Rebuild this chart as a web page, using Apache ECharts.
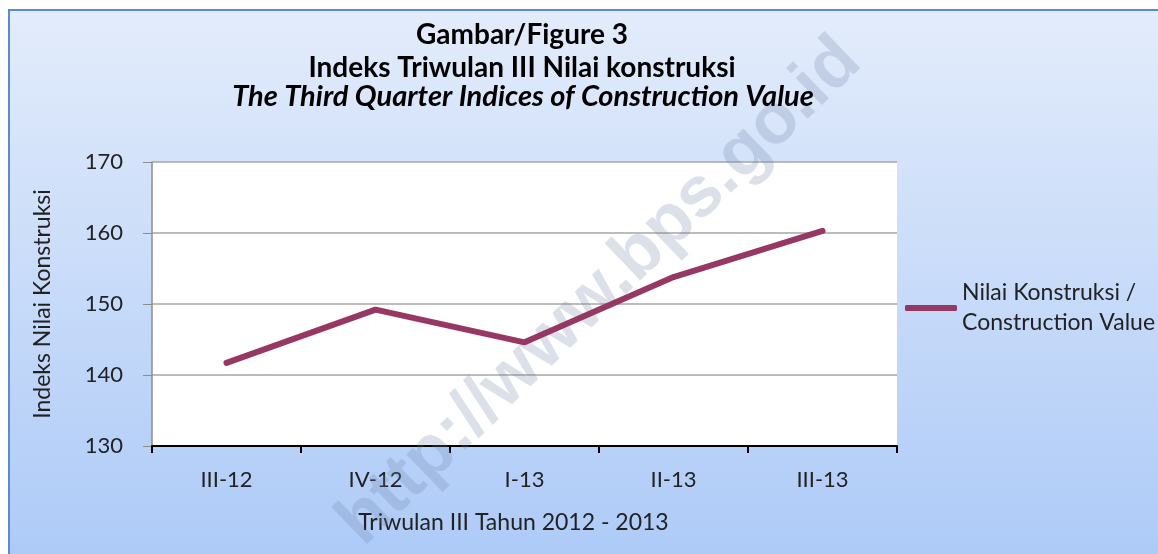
<!DOCTYPE html>
<html><head><meta charset="utf-8">
<script src="https://cdn.jsdelivr.net/npm/echarts@6/dist/echarts.min.js"></script>
<style>html,body{margin:0;padding:0;background:#fff}#c{width:1158px;height:554px}</style>
</head><body><div id="c"></div>
<script>
const categories = ['III-12', 'IV-12', 'I-13', 'II-13', 'III-13'];
const values = [141.7, 149.2, 144.6, 153.8, 160.3];
const seriesName = 'Nilai Konstruksi / Construction Value';
const legendLines = ['Nilai Konstruksi /', 'Construction Value'];
const titleLines = ['Gambar/Figure 3', 'Indeks Triwulan III Nilai konstruksi', 'The Third Quarter Indices of Construction Value'];
const yAxisName = 'Indeks Nilai Konstruksi';
const xAxisName = 'Triwulan III Tahun 2012 - 2013';
const watermark = 'http://www.bps.go.id';

const FONT = 'Lato, "Open Sans", sans-serif';
const chart = echarts.init(document.getElementById('c'));
chart.setOption({
  backgroundColor: '#fff',
  animation: false,
  graphic: [
    { type: 'rect', z: -100, shape: { x: 9, y: 10, width: 1200, height: 600 },
      style: { fill: new echarts.graphic.LinearGradient(0, 0, 0, 1, [{offset: 0, color: '#e3ecfb'}, {offset: 1, color: '#a8c7f7'}]),
               stroke: '#5b8ad0', lineWidth: 2 } },
    { type: 'text', z: 5, x: 522, y: 35, style: { text: titleLines[0], font: 'bold 28px ' + FONT, fill: '#000', align: 'center', verticalAlign: 'middle' } },
    { type: 'text', z: 5, x: 522, y: 68, style: { text: titleLines[1], font: 'bold 28px ' + FONT, fill: '#000', align: 'center', verticalAlign: 'middle' } },
    { type: 'text', z: 5, x: 523, y: 97, style: { text: titleLines[2], font: 'italic bold 29px ' + FONT, fill: '#000', align: 'center', verticalAlign: 'middle' } },
    { type: 'text', z: 1, x: 600, y: 292, rotation: 44 * Math.PI / 180,
      style: { text: watermark, font: 'bold 71px "Liberation Sans", Arial, sans-serif', fill: 'rgba(110,130,165,0.24)', align: 'center', verticalAlign: 'middle' } }
  ],
  grid: { left: 152, top: 162, width: 745, height: 284, show: true, backgroundColor: '#fff', borderWidth: 0 },
  legend: {
    data: [{ name: seriesName, icon: 'roundRect' }], left: 905, top: 263, padding: 0,
    itemWidth: 52, itemHeight: 6,
    formatter: function(){ return legendLines.join('\n'); },
    textStyle: { fontFamily: FONT, fontSize: 23, color: '#222', lineHeight: 30, padding: [30, 0, 0, 0] }
  },
  xAxis: {
    type: 'category', data: categories, boundaryGap: true,
    axisLine: { lineStyle: { color: '#000', width: 2 } },
    axisTick: { show: true, length: 7, lineStyle: { color: '#000', width: 2 } },
    axisLabel: { fontFamily: FONT, fontSize: 22, color: '#222', margin: 23 },
    name: xAxisName, nameLocation: 'middle', nameGap: 65,
    nameTextStyle: { fontFamily: FONT, fontSize: 23, color: '#222', padding: [0, 22, 0, 0] }
  },
  yAxis: {
    type: 'value', min: 130, max: 170, interval: 10,
    axisLine: { show: true, lineStyle: { color: '#8c8c8c', width: 1.5 } },
    axisTick: { show: true, length: 9, lineStyle: { color: '#8c8c8c' } },
    axisLabel: { fontFamily: FONT, fontSize: 22, color: '#222', margin: 29 },
    splitLine: { lineStyle: { color: '#a6a6a6', width: 1.5 } },
    name: yAxisName, nameLocation: 'middle', nameRotate: 90, nameGap: 98,
    nameTextStyle: { fontFamily: FONT, fontSize: 23, color: '#222' }
  },
  series: [{
    name: seriesName, type: 'line', data: values, symbol: 'none', z: 3,
    lineStyle: { color: '#963863', width: 6, cap: 'round' }, itemStyle: { color: '#963863' }
  }]
});
</script></body></html>
